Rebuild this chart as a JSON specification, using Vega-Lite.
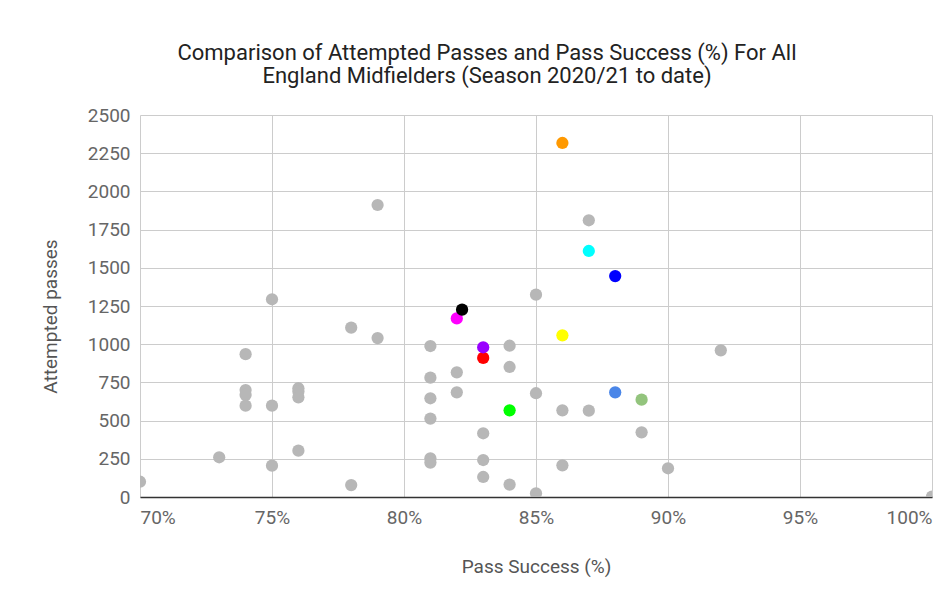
{
  "$schema": "https://vega.github.io/schema/vega-lite/v6.json",
  "width": 792,
  "height": 382,
  "autosize": {"type": "none"},
  "padding": {"left": 140, "top": 115, "right": 15, "bottom": 102},
  "background": "white",
  "title": {
    "text": ["Comparison of Attempted Passes and Pass Success (%) For All", "England Midfielders (Season 2020/21 to date)"],
    "anchor": "middle",
    "dx": -49,
    "offset": 18,
    "font": "Roboto",
    "fontSize": 22,
    "fontWeight": "normal",
    "color": "#222222",
    "lineHeight": 23
  },
  "data": {
    "values": [
      {"pct": 70, "passes": 100, "player": "Other"},
      {"pct": 73, "passes": 260, "player": "Other"},
      {"pct": 74, "passes": 935, "player": "Other"},
      {"pct": 74, "passes": 700, "player": "Other"},
      {"pct": 74, "passes": 668, "player": "Other"},
      {"pct": 74, "passes": 598, "player": "Other"},
      {"pct": 75, "passes": 1294, "player": "Other"},
      {"pct": 75, "passes": 598, "player": "Other"},
      {"pct": 75, "passes": 205, "player": "Other"},
      {"pct": 76, "passes": 712, "player": "Other"},
      {"pct": 76, "passes": 690, "player": "Other"},
      {"pct": 76, "passes": 652, "player": "Other"},
      {"pct": 76, "passes": 303, "player": "Other"},
      {"pct": 78, "passes": 1108, "player": "Other"},
      {"pct": 78, "passes": 78, "player": "Other"},
      {"pct": 79, "passes": 1911, "player": "Other"},
      {"pct": 79, "passes": 1040, "player": "Other"},
      {"pct": 81, "passes": 988, "player": "Other"},
      {"pct": 81, "passes": 781, "player": "Other"},
      {"pct": 81, "passes": 646, "player": "Other"},
      {"pct": 81, "passes": 513, "player": "Other"},
      {"pct": 81, "passes": 253, "player": "Other"},
      {"pct": 81, "passes": 225, "player": "Other"},
      {"pct": 82, "passes": 816, "player": "Other"},
      {"pct": 82, "passes": 685, "player": "Other"},
      {"pct": 83, "passes": 417, "player": "Other"},
      {"pct": 83, "passes": 242, "player": "Other"},
      {"pct": 83, "passes": 131, "player": "Other"},
      {"pct": 84, "passes": 990, "player": "Other"},
      {"pct": 84, "passes": 851, "player": "Other"},
      {"pct": 84, "passes": 81, "player": "Other"},
      {"pct": 85, "passes": 1324, "player": "Other"},
      {"pct": 85, "passes": 679, "player": "Other"},
      {"pct": 85, "passes": 24, "player": "Other"},
      {"pct": 86, "passes": 567, "player": "Other"},
      {"pct": 86, "passes": 207, "player": "Other"},
      {"pct": 87, "passes": 1811, "player": "Other"},
      {"pct": 87, "passes": 565, "player": "Other"},
      {"pct": 89, "passes": 423, "player": "Other"},
      {"pct": 90, "passes": 188, "player": "Other"},
      {"pct": 92, "passes": 960, "player": "Other"},
      {"pct": 100, "passes": 3, "player": "Other"},
      {"pct": 86, "passes": 2317, "player": "P1"},
      {"pct": 86, "passes": 1058, "player": "P2"},
      {"pct": 87, "passes": 1610, "player": "P3"},
      {"pct": 88, "passes": 1446, "player": "P4"},
      {"pct": 82, "passes": 1169, "player": "P5"},
      {"pct": 82.2, "passes": 1226, "player": "P6"},
      {"pct": 83, "passes": 910, "player": "P7"},
      {"pct": 83, "passes": 980, "player": "P8"},
      {"pct": 84, "passes": 567, "player": "P9"},
      {"pct": 88, "passes": 685, "player": "P10"},
      {"pct": 89, "passes": 637, "player": "P11"}
    ]
  },
  "mark": {"type": "circle", "size": 150, "opacity": 1, "clip": true},
  "encoding": {
    "x": {
      "field": "pct",
      "type": "quantitative",
      "scale": {"domain": [70, 100], "nice": false, "zero": false},
      "axis": {
        "title": "Pass Success (%)",
        "values": [70, 75, 80, 85, 90, 95, 100],
        "labelExpr": "datum.value + '%'",
        "titlePadding": 30
      }
    },
    "y": {
      "field": "passes",
      "type": "quantitative",
      "scale": {"domain": [0, 2500], "nice": false},
      "axis": {
        "title": "Attempted passes",
        "values": [0, 250, 500, 750, 1000, 1250, 1500, 1750, 2000, 2250, 2500],
        "format": "d",
        "domain": false,
        "titlePadding": 27,
        "titleY": 201
      }
    },
    "color": {
      "field": "player",
      "type": "nominal",
      "scale": {
        "domain": ["Other", "P1", "P2", "P3", "P4", "P5", "P6", "P7", "P8", "P9", "P10", "P11"],
        "range": ["#b7b7b7", "#ff9900", "#ffff00", "#00ffff", "#0000ff", "#ff00ff", "#000000", "#ff0000", "#9900ff", "#00ff00", "#4a86e8", "#93c47d"]
      },
      "legend": null
    }
  },
  "config": {
    "view": {"stroke": null},
    "axis": {
      "labelFont": "Roboto",
      "titleFont": "Roboto",
      "labelFontSize": 19,
      "titleFontSize": 19,
      "titleFontWeight": "normal",
      "labelColor": "#666666",
      "titleColor": "#555555",
      "gridColor": "#cccccc",
      "gridWidth": 1,
      "ticks": false,
      "labelPadding": 10
    },
    "axisX": {"domainColor": "#333333", "domainWidth": 1.5, "labelPadding": 11},
    "axisY": {"labelPadding": 10}
  }
}
